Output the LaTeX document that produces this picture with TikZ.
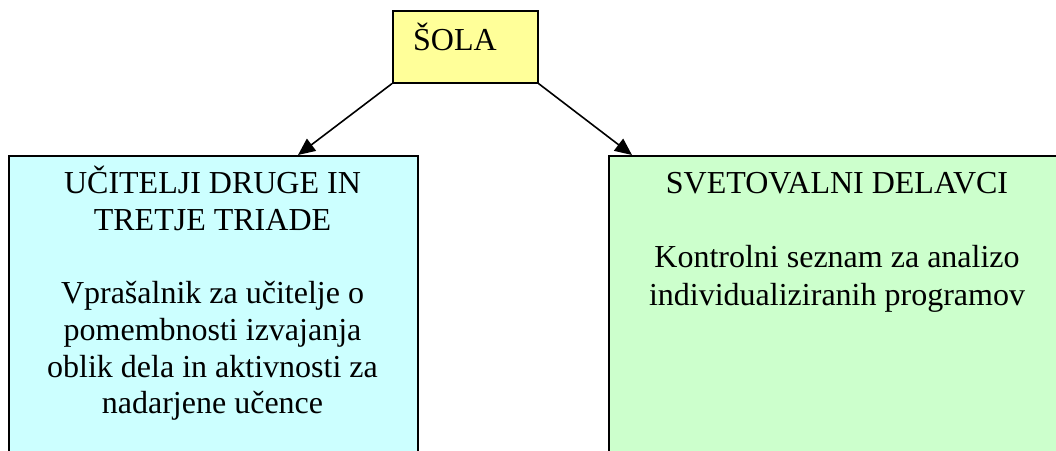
\documentclass[tikz,border=0pt]{standalone}
\usepackage{fontspec}
\setmainfont{Liberation Serif}
\usetikzlibrary{arrows.meta}
\definecolor{solafill}{HTML}{FFFF99}
\definecolor{ucitfill}{HTML}{CCFFFF}
\definecolor{svetfill}{HTML}{CCFFCC}
\begin{document}
\begin{tikzpicture}[x=1pt,y=-1pt,
  boxstyle/.style={draw=black,line width=1.6pt,rectangle,inner sep=0pt,anchor=north west},
  txt/.style={inner sep=0pt,anchor=base,font=\fontsize{32}{37}\selectfont},
  arr/.style={line width=1.6pt,-{Triangle[length=17pt,width=15pt]}}]
\useasboundingbox (0,0) rectangle (1056,450);
\clip (0,0) rectangle (1056,450);
\node[boxstyle,fill=solafill,minimum width=145pt,minimum height=72pt] (sola) at (392,10) {};
\node[txt,anchor=base west] (solat) at (413,50) {ŠOLA};
\node[boxstyle,fill=ucitfill,minimum width=409pt,minimum height=330pt] (ucit) at (8,155) {};
\node[boxstyle,fill=svetfill,minimum width=458pt,minimum height=330pt] (svet) at (608,155) {};
\coordinate (ucitin) at (298,155);
\coordinate (svetin) at (632,155);
\draw[arr] (sola.south west) -- (ucitin);
\draw[arr] (sola.south east) -- (svetin);
\node[txt] (u1) at (212.5,193) {UČITELJI DRUGE IN};
\node[txt] (u2) at (212.5,230) {TRETJE TRIADE};
\node[txt] (u3) at (212.5,303) {Vprašalnik za učitelje o};
\node[txt] (u4) at (212.5,340) {pomembnosti izvajanja};
\node[txt] (u5) at (212.5,377) {oblik dela in aktivnosti za};
\node[txt] (u6) at (212.5,413) {nadarjene učence};
\node[txt] (s1) at (837,193) {SVETOVALNI DELAVCI};
\node[txt] (s2) at (837,267) {Kontrolni seznam za analizo};
\node[txt] (s3) at (837,305) {individualiziranih programov};
\end{tikzpicture}
\end{document}
